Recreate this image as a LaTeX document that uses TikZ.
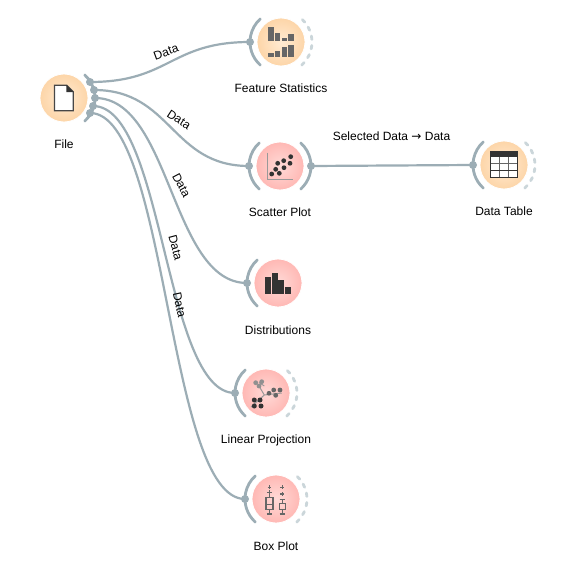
\documentclass[tikz,border=0pt]{standalone}
\usepackage{fontspec}
\setmainfont{Liberation Sans}
\newfontfamily\arrowfont{DejaVu Sans}
\definecolor{edgec}{HTML}{9CADB5}
\definecolor{idle}{HTML}{CBD6DA}
\definecolor{orO}{HTML}{FDD5A8}
\definecolor{orI}{HTML}{FFEBD2}
\definecolor{piO}{HTML}{FFB8B4}
\definecolor{piI}{HTML}{FFDAD7}
\definecolor{darkic}{HTML}{333333}
\definecolor{midic}{HTML}{666666}
\tikzset{
  orw/.style={circle,minimum size=48pt,inner sep=0pt,inner color=orI,outer color=orO,draw=white,line width=0.8pt},
  piw/.style={circle,minimum size=48pt,inner sep=0pt,inner color=piI,outer color=piO,draw=white,line width=0.8pt},
  wlabel/.style={font=\fontsize{12}{14}\selectfont,text=black,inner sep=0pt},
  elabel/.style={font=\fontsize{12}{14}\selectfont,text=black,inner sep=0pt},
  link/.style={draw=edgec,line width=2.2pt},
  portarc/.style={draw=edgec,line width=2.8pt,line cap=round},
  idlearc/.style={draw=idle,line width=2.8pt,line cap=round,dash pattern=on 3.5pt off 6pt},
  port/.style={circle,fill=edgec,minimum size=8pt,inner sep=0pt},
  iconbar/.style={fill=midic},
  iconbard/.style={fill=darkic},
  dotd/.style={fill=darkic},
  dotm/.style={fill=midic}
}
\begin{document}
\begin{tikzpicture}[x=1pt,y=-1pt]
\useasboundingbox (0,0) rectangle (567,586);
\fill[white] (0,0) rectangle (567,586);
% widgets
\node[orw] (file) at (64,98) {};
\node[orw] (fs) at (281,42) {};
\node[piw] (sp) at (280,166) {};
\node[orw] (dt) at (504,165) {};
\node[piw] (di) at (278,283) {};
\node[piw] (lp) at (266,393) {};
\node[piw] (bp) at (276,499) {};
% arcs
\draw[portarc] (file) ++(48:31) arc (48:-48:31);
\draw[portarc] (fs) ++(132:31) arc (132:228:31);
\draw[idlearc] (fs) ++(48:31) arc (48:-48:31);
\draw[portarc] (sp) ++(132:31) arc (132:228:31);
\draw[portarc] (sp) ++(48:31) arc (48:-48:31);
\draw[portarc] (dt) ++(132:31) arc (132:228:31);
\draw[idlearc] (dt) ++(48:31) arc (48:-48:31);
\draw[portarc] (di) ++(132:31) arc (132:228:31);
\draw[portarc] (lp) ++(132:31) arc (132:228:31);
\draw[idlearc] (lp) ++(48:31) arc (48:-48:31);
\draw[portarc] (bp) ++(132:31) arc (132:228:31);
\draw[idlearc] (bp) ++(48:31) arc (48:-48:31);
% ports
\node[port] (f1) at (90,82) {};
\node[port] (f2) at (94,90) {};
\node[port] (f3) at (95,98) {};
\node[port] (f4) at (93,106) {};
\node[port] (f5) at (90,113) {};
\node[port] (fsin) at (250,42) {};
\node[port] (spin) at (249,166) {};
\node[port] (spout) at (311,166) {};
\node[port] (dtin) at (473,165) {};
\node[port] (diin) at (247,283) {};
\node[port] (lpin) at (235,393) {};
\node[port] (bpin) at (245,499) {};
% links
\draw[link] (f1.center) .. controls +(80,0) and +(-80,0) .. (fsin.center);
\draw[link] (f2.center) .. controls +(78,0) and +(-78,0) .. (spin.center);
\draw[link] (f3.center) .. controls +(76,0) and +(-76,0) .. (diin.center);
\draw[link] (f4.center) .. controls +(71,0) and +(-71,0) .. (lpin.center);
\draw[link] (f5.center) .. controls +(78,0) and +(-78,0) .. (bpin.center);
\draw[link] (spout.center) .. controls +(81,0) and +(-81,0) .. (dtin.center);
% edge labels
\node[elabel,rotate=20] (e1) at (166,52) {Data};
\node[elabel,rotate=-33] (e2) at (179,119.5) {Data};
\node[elabel,rotate=-62] (e3) at (181.5,185.5) {Data};
\node[elabel,rotate=-75] (e4) at (175.5,247.5) {Data};
\node[elabel,rotate=-78] (e5) at (179.5,305) {Data};
\node[elabel] (e6) at (391.5,136.3) {Selected Data {\arrowfont →} Data};
% widget labels
\node[wlabel] (lf) at (64,144.7) {File};
\node[wlabel] (lfs) at (281,88.7) {Feature Statistics};
\node[wlabel] (lsp) at (280,212.7) {Scatter Plot};
\node[wlabel] (ldt) at (504,211.7) {Data Table};
\node[wlabel] (ldi) at (278,330.7) {Distributions};
\node[wlabel] (llp) at (266,440.7) {Linear Projection};
\node[wlabel] (lbp) at (276,546.7) {Box Plot};
% file icon
\draw[fill=white,draw=darkic!90,line width=1.3pt] (54.5,85.3) -- (66.7,85.3) -- (73.2,91.7) -- (73.2,110.8) -- (54.5,110.8) -- cycle;
\fill[darkic] (66.4,85) -- (73.5,92) -- (66.4,92) -- cycle;
% feature statistics icon
\foreach \a/\b/\t in {268/273.6/27.3,275/280.3/33.3,282/287/38.3,288.3/294/33.7}
  \fill[iconbar] (\a,\t) rectangle (\b,41.3);
\foreach \a/\b/\t in {268/273.6/53.3,275/280.3/50.7,282/287/46.7,288.3/294/45}
  \fill[iconbar] (\a,\t) rectangle (\b,57);
% scatter icon
\draw[draw=gray!80,line width=1pt] (267.3,152.7) -- (267.3,179) -- (293.3,179);
\foreach \x/\y in {271.7/174,275.7/169.3,279.3/173.3,277.7/163.3,284/167.7,283.7/160.7,290/163.3,290.7/156.7}
  \fill[dotd] (\x,\y) circle (2.4);
% data table icon
\fill[white] (490.7,151.7) rectangle (517.3,177.7);
\fill[darkic] (490.7,151.7) rectangle (517.3,157);
\draw[midic,line width=0.8pt] (499.3,157) -- (499.3,177.7) (508.3,157) -- (508.3,177.7) (490.7,163.3) -- (517.3,163.3);
\draw[darkic,line width=0.9pt] (490.7,170) -- (517.3,170);
\draw[darkic,line width=1.2pt] (490.7,151.7) rectangle (517.3,177.7);
% distributions icon
\foreach \a/\b/\t in {265/270.9/277.3,271.5/277.5/273.3,278.1/284/280,285/291/286.7}
  \fill[iconbard] (\a,\t) rectangle (\b,294.3);
% linear projection icon
\draw[gray!80,line width=1pt] (264.3,386) -- (259,382.5) (264.3,395) -- (259,386) (264.3,395) -- (281.7,393) (264.3,395) -- (251,407);
\foreach \x/\y in {255.7/382.7,261.7/381.7,259/386}
  \fill[gray!75!black!70] (\x,\y) circle (2.4);
\foreach \x/\y in {269/393.3,273.7/390,280/390,275.7/395.3}
  \fill[dotm] (\x,\y) circle (2.4);
\foreach \x/\y in {254.3/400,260/400,254.3/406,261/406}
  \fill[dotd] (\x,\y) circle (2.5);
% box plot icon
\draw[midic,line width=1.1pt] (269.3,485) -- (269.3,488.5) (267.5,487.3) -- (271.1,487.3)
  (266.8,492.7) -- (272,492.7) (269.3,490) -- (269.3,497.3) (269.3,509.3) -- (269.3,514) (266.8,514) -- (272,514);
\draw[midic,line width=1.1pt] (266,497.3) rectangle (273,509.3) (266,504.3) -- (273,504.3);
\draw[midic,line width=1.1pt] (282.3,485) -- (282.3,489) (280.3,487.3) -- (284.3,487.3)
  (282.3,492) -- (282.3,496) (280.3,494) -- (284.3,494)
  (279.7,499.3) -- (285,499.3) (282.3,499.3) -- (282.3,503.3) (282.3,509.3) -- (282.3,514) (279.7,514) -- (285,514);
\draw[midic,line width=1.1pt] (279.3,503.3) rectangle (285.3,509.3);
\end{tikzpicture}
\end{document}
